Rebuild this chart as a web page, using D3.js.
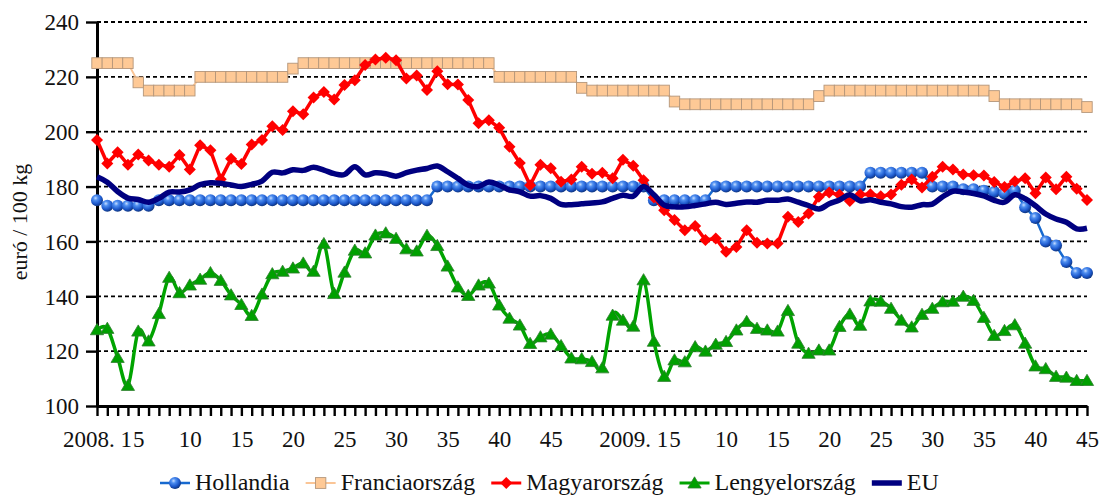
<!DOCTYPE html>
<html>
<head>
<meta charset="utf-8">
<script src="https://cdn.jsdelivr.net/npm/d3@7"></script>
<style>
  body { margin: 0; background: #fff; }
  svg, svg text { font-family: 'Liberation Serif', 'DejaVu Serif', 'Times New Roman', serif; }
</style>
</head>
<body>
<svg id="chart" width="1109" height="497"></svg>
<script>
// weekly categories: 2008 week 1..52, 2009 week 1..45
const years = ['2008', '2009'];
const weeksInYear = [52, 45];
const labelWeeks = [1, 5, 10, 15, 20, 25, 30, 35, 40, 45];
const yTicks = [100, 120, 140, 160, 180, 200, 220, 240];

const hollandia = [
  175, 173, 173, 173, 173, 173, 175, 175, 175, 175,
  175, 175, 175, 175, 175, 175, 175, 175, 175, 175,
  175, 175, 175, 175, 175, 175, 175, 175, 175, 175,
  175, 175, 175, 180, 180, 180, 180, 180, 180, 180,
  180, 180, 180, 180, 180, 180, 180, 180, 180, 180,
  180, 180,
  180, 180, 175, 175, 175, 175, 175, 175, 180, 180,
  180, 180, 180, 180, 180, 180, 180, 180, 180, 180,
  180, 180, 180, 185, 185, 185, 185, 185, 185, 180,
  180, 180, 179, 179, 178.5, 178, 177.5, 178.5, 172.5, 168.5,
  160, 158.5, 152.5, 148.5, 148.5
];

const franciaorszag = [
  225, 225, 225, 225, 218, 215, 215, 215, 215, 215,
  220, 220, 220, 220, 220, 220, 220, 220, 220, 223,
  225, 225, 225, 225, 225, 225, 225, 225, 225, 225,
  225, 225, 225, 225, 225, 225, 225, 225, 225, 220,
  220, 220, 220, 220, 220, 220, 220, 216, 215, 215,
  215, 215,
  215, 215, 215, 215, 211, 210, 210, 210, 210, 210,
  210, 210, 210, 210, 210, 210, 210, 210, 213, 215,
  215, 215, 215, 215, 215, 215, 215, 215, 215, 215,
  215, 215, 215, 215, 215, 213, 210, 210, 210, 210,
  210, 210, 210, 210, 209
];

const magyarorszag = [
  197, 188.4, 192.5, 188, 191.7, 189.5, 188, 187.2, 191.5, 186.2,
  195.1, 193.2, 182.7, 190.1, 188.2, 195.3, 197, 202, 200.6, 207.5,
  206.4, 212.5, 214.5, 211.7, 217, 218.8, 224.3, 226.3, 227, 226.1,
  219.4, 220.5, 215.2, 222, 217.3, 217.2, 211.6, 203.1, 204.2, 201.4,
  194.5, 188.6, 180.5, 188, 186.7, 181.8, 182.6, 187.2, 184.7, 185,
  183, 189.8,
  187.6, 182.3, 176, 171.4, 167.8, 164.1, 165.6, 160.5, 161.1, 156.2,
  158, 164.1, 159.5, 159.2, 159.2, 169, 167.1, 170.2, 176.3, 177.8,
  177, 174.7, 177.1, 177.2, 176.5, 177.1, 180.7, 182.6, 179.7, 183.6,
  187.2, 186.2, 184.4, 184.1, 184, 181.7, 179.8, 181.9, 183, 177.6,
  183.3, 179, 183.6, 179.2, 175.1
];

const lengyelorszag = [
  127.8, 128.3, 117.7, 107.5, 127.3, 123.7, 133.7, 146.9, 141.3, 144.1,
  146.2, 148.6, 145.8, 140.5, 137, 133, 140.8, 148.2, 149.1, 150.3,
  152.1, 149.1, 159.2, 141, 148.8, 156.8, 155.8, 162.3, 163.1, 161.1,
  157.3, 156.5, 162.2, 158.5, 151, 143.4, 140.3, 144.1, 144.8, 136.8,
  132, 129.5, 122.8, 125.2, 126.2, 122, 117.5, 117.2, 116.2, 113.9,
  133.1, 131.3,
  129.1, 146, 123.6, 110.8, 116.8, 116.1, 121.6, 120, 122.5, 123.5,
  127.7, 130.8, 128.3, 127.7, 127.3, 134.8, 122.9, 119.2, 120.4, 120.4,
  129, 133.5, 129.4, 138.3, 138.2, 135.6, 131.3, 128.8, 133.4, 135.6,
  138, 138.2, 140, 138.5, 132.3, 125.7, 127.5, 129.6, 122.9, 114.6,
  113.6, 110.8, 110.5, 109.3, 109.3
];

const eu = [
  183.6, 181.6, 178.2, 175.8, 175.3, 174.3, 175.7, 178, 178, 178.8,
  180.7, 181.4, 181.2, 180.6, 180, 180.8, 182, 185.2, 185, 186.1,
  185.9, 187, 186, 184.7, 184.4, 187.2, 184.3, 185, 184.7, 183.8,
  185.1, 186, 186.6, 187.5, 185.4, 183, 180.5, 180, 181.7, 180.5,
  178.8, 178.1, 176.5, 176.7, 175.7, 173.5, 173.4, 173.7, 174, 174.4,
  175.7, 176.8,
  176.5, 180, 177, 173.2, 172.6, 172.6, 173.1, 173.7, 174.3, 173.5,
  173.9, 174.4, 174.3, 175, 175, 175.5, 174.3, 173.1, 171.8, 173.7,
  175.1, 177, 174.8, 175.2, 174.3, 173.7, 172.7, 172.5, 173.4, 173.6,
  176.3, 178.3, 178, 177.5, 176.6, 175, 174.3, 177, 175.6, 173,
  170, 168.2, 167, 164.6, 164.8
];

const FONT = "'Liberation Serif', 'DejaVu Serif', 'Times New Roman', serif";

const categories = [];
years.forEach((yr, k) => {
  for (let w = 1; w <= weeksInYear[k]; w++) categories.push({ key: yr + '-' + w, year: yr, week: w });
});

const series = [
  { name: 'Hollandia', values: hollandia, color: '#1769cf', width: 2.5, marker: 'sphere', curve: d3.curveLinear },
  { name: 'Franciaország', values: franciaorszag, color: '#fac596', width: 2, marker: 'square', curve: d3.curveLinear },
  { name: 'Magyarország', values: magyarorszag, color: '#ff0000', width: 3.5, marker: 'diamond', curve: d3.curveLinear },
  { name: 'Lengyelország', values: lengyelorszag, color: '#00a400', width: 3.5, marker: 'triangle', curve: d3.curveCatmullRom.alpha(0) },
  { name: 'EU', values: eu, color: '#000080', width: 5.5, marker: null, curve: d3.curveCatmullRom.alpha(0) }
];

const svg = d3.select('#chart').attr('font-family', FONT);

const x = d3.scalePoint().domain(categories.map(c => c.key)).range([97, 1087]);
const y = d3.scaleLinear().domain([100, 240]).range([406, 22]);

// sphere gradient for the Hollandia markers
const grad = svg.append('defs').append('radialGradient')
  .attr('id', 'sphere').attr('cx', '38%').attr('cy', '32%').attr('r', '68%');
grad.append('stop').attr('offset', '0%').attr('stop-color', '#c6dcff');
grad.append('stop').attr('offset', '28%').attr('stop-color', '#4f8ff0');
grad.append('stop').attr('offset', '70%').attr('stop-color', '#1c58cc');
grad.append('stop').attr('offset', '100%').attr('stop-color', '#0f3580');

// dashed grid
svg.append('g')
  .selectAll('line')
  .data(yTicks.filter(v => v > 100))
  .enter()
  .append('line')
  .attr('x1', 97).attr('x2', 1087)
  .attr('y1', d => y(d)).attr('y2', d => y(d))
  .attr('stroke', '#000')
  .attr('stroke-width', 1.8)
  .attr('stroke-dasharray', '4,3');

// axes
const yAxis = svg.append('g')
  .attr('transform', 'translate(97,0)')
  .call(d3.axisLeft(y).tickValues(yTicks).tickSize(11).tickSizeOuter(0).tickPadding(7));

const byKey = {};
categories.forEach(c => { byKey[c.key] = c; });
const xAxis = svg.append('g')
  .attr('transform', 'translate(0,406)')
  .call(d3.axisBottom(x).tickSize(10).tickSizeOuter(0).tickFormat(k => {
    const c = byKey[k];
    if (labelWeeks.indexOf(c.week) < 0) return '';
    return c.week === 1 ? c.year + '. 1' : String(c.week);
  }));

[yAxis, xAxis].forEach(a => {
  a.attr('font-family', FONT).attr('font-size', 23);
  a.select('.domain').attr('stroke', '#000').attr('stroke-width', 3);
  a.selectAll('.tick line').attr('stroke', '#000').attr('stroke-width', 2.4);
  a.selectAll('.tick text').attr('fill', '#111');
});
xAxis.selectAll('.tick text').attr('y', 41).attr('dy', 0);
yAxis.selectAll('.tick text').attr('dy', '0.34em');

// axis title
svg.append('text')
  .attr('transform', 'translate(27,222) rotate(-90)')
  .attr('text-anchor', 'middle')
  .attr('fill', '#111')
  .attr('font-size', 22)
  .text('euró / 100 kg');

function drawMarker(sel, type, color) {
  if (type === 'sphere') {
    sel.append('circle').attr('r', 6).attr('fill', 'url(#sphere)');
  } else if (type === 'square') {
    sel.append('rect').attr('x', -5.2).attr('y', -5.4).attr('width', 10.4).attr('height', 10.8)
      .attr('fill', '#fec996').attr('stroke', '#b4967a').attr('stroke-width', 0.9);
  } else if (type === 'diamond') {
    sel.append('path').attr('d', 'M0,-6L6,0L0,6L-6,0Z').attr('fill', color);
  } else if (type === 'triangle') {
    sel.append('path').attr('d', 'M0,-6.2L6.6,5L-6.6,5Z')
      .attr('fill', '#00a000').attr('stroke', '#2f7d2f').attr('stroke-width', 0.8);
  }
}

// series
const plot = svg.append('g');
series.forEach(s => {
  const pts = categories.map((c, i) => [x(c.key), y(s.values[i])]);
  const line = d3.line().curve(s.curve);
  const g = plot.append('g');
  g.append('path')
    .attr('d', line(pts))
    .attr('fill', 'none')
    .attr('stroke', s.color)
    .attr('stroke-width', s.width)
    .attr('stroke-linejoin', 'round');
  if (s.marker) {
    g.selectAll('.m')
      .data(pts)
      .enter()
      .append('g')
      .attr('class', 'm')
      .attr('transform', d => 'translate(' + d[0] + ',' + d[1] + ')')
      .each(function() { drawMarker(d3.select(this), s.marker, s.color); });
  }
});

// legend
const legend = svg.append('g').attr('transform', 'translate(0,483)');
let lx = 160;
series.forEach(s => {
  const item = legend.append('g').attr('transform', 'translate(' + lx + ',0)');
  item.append('line')
    .attr('x1', 0).attr('x2', 30)
    .attr('stroke', s.color)
    .attr('stroke-width', s.marker ? Math.min(s.width, 3) : 5.5);
  if (s.marker) {
    const m = item.append('g').attr('transform', 'translate(15,0)');
    drawMarker(m, s.marker, s.color);
  }
  const t = item.append('text')
    .attr('x', 35)
    .attr('y', 7)
    .attr('fill', '#111')
    .attr('font-size', 24)
    .text(s.name);
  lx += 35 + t.node().getComputedTextLength() + 16;
});
</script>
</body>
</html>
